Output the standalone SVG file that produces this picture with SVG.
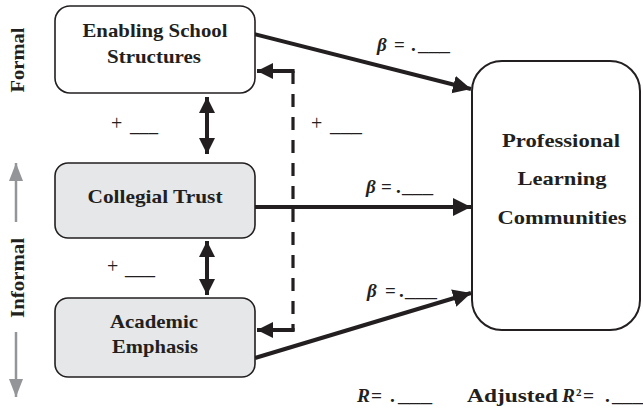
<svg xmlns="http://www.w3.org/2000/svg" width="643" height="408" viewBox="0 0 643 408">
<style>
.box{fill:#fff;stroke:#231f20;stroke-width:1.6}
.gbox{fill:#e6e7e8;stroke:#231f20;stroke-width:1.6}
text{font-family:'Liberation Serif',Tinos,'Times New Roman',serif;fill:#231f20}
.bt{font-weight:bold;font-size:19.5px;text-anchor:middle}
.lab{font-weight:bold;font-size:19px}
.pl{font-size:20px}
.it{font-style:italic}
.arr{stroke:#231f20;stroke-width:4;fill:none}
.dash{stroke:#231f20;stroke-width:3.2;fill:none;stroke-dasharray:13 10}
.side{stroke:#939598;stroke-width:2.5;fill:none}
</style>
<defs>
<marker id="ah" markerUnits="userSpaceOnUse" markerWidth="20" markerHeight="20" refX="18" refY="9" orient="auto">
<path d="M0,0 L18,9 L0,18 Z" fill="#231f20"/>
</marker>
<marker id="ahs" markerUnits="userSpaceOnUse" markerWidth="20" markerHeight="20" refX="16" refY="8" orient="auto">
<path d="M0,0 L16,8 L0,16 Z" fill="#231f20"/>
</marker>
<marker id="gh" markerUnits="userSpaceOnUse" markerWidth="20" markerHeight="20" refX="18" refY="7" orient="auto">
<path d="M0,0 L18,7 L0,14 Z" fill="#939598"/>
</marker>
</defs>

<g id="side-labels">
<text class="bt" transform="translate(24,60) rotate(-90)" textLength="65" lengthAdjust="spacingAndGlyphs">Formal</text>
<text class="bt" transform="translate(24,278) rotate(-90)" textLength="80" lengthAdjust="spacingAndGlyphs">Informal</text>
<line class="side" x1="16" y1="222" x2="16" y2="163" marker-end="url(#gh)"/>
<line class="side" x1="16" y1="332" x2="16" y2="397" marker-end="url(#gh)"/>
</g>

<g id="connectors">
<line class="arr" x1="246" y1="32" x2="471" y2="89" marker-end="url(#ah)"/>
<line class="arr" x1="255" y1="207" x2="471" y2="207" marker-end="url(#ah)"/>
<line class="arr" x1="255" y1="358" x2="471" y2="293" marker-end="url(#ah)"/>
<line class="arr" x1="207" y1="125" x2="207" y2="97" marker-end="url(#ahs)"/>
<line class="arr" x1="207" y1="125" x2="207" y2="154" marker-end="url(#ahs)"/>
<line class="arr" x1="207" y1="267" x2="207" y2="241" marker-end="url(#ahs)"/>
<line class="arr" x1="207" y1="267" x2="207" y2="295" marker-end="url(#ahs)"/>
<line class="dash" x1="293" y1="71" x2="293" y2="331"/>
<line class="arr" x1="294.6" y1="71" x2="257" y2="71" marker-end="url(#ahs)"/>
<line class="arr" x1="294.6" y1="330" x2="257" y2="330" marker-end="url(#ahs)"/>
</g>

<g id="node-ess">
<rect class="box" x="55" y="6" width="200" height="87" rx="15"/>
<text class="bt" x="155" y="37" textLength="145" lengthAdjust="spacingAndGlyphs">Enabling School</text>
<text class="bt" x="154" y="63" textLength="94" lengthAdjust="spacingAndGlyphs">Structures</text>
</g>

<g id="node-ct">
<rect class="gbox" x="55" y="163" width="200" height="75" rx="13"/>
<text class="bt" x="155" y="203" textLength="135" lengthAdjust="spacingAndGlyphs">Collegial Trust</text>
</g>

<g id="node-ae">
<rect class="gbox" x="55" y="298" width="200" height="79" rx="13"/>
<text class="bt" x="154" y="328" textLength="88" lengthAdjust="spacingAndGlyphs">Academic</text>
<text class="bt" x="155" y="353" textLength="86" lengthAdjust="spacingAndGlyphs">Emphasis</text>
</g>

<g id="node-plc">
<rect class="box" x="472" y="61" width="168" height="269" rx="30" style="stroke-width:2"/>
<text class="bt" x="561" y="147" textLength="118" lengthAdjust="spacingAndGlyphs">Professional</text>
<text class="bt" x="562" y="185" textLength="89" lengthAdjust="spacingAndGlyphs">Learning</text>
<text class="bt" x="562" y="224" textLength="129" lengthAdjust="spacingAndGlyphs">Communities</text>
</g>

<g id="labels">
<text class="pl"><tspan x="111" y="130">+</tspan><tspan x="130" y="131" textLength="28" lengthAdjust="spacingAndGlyphs">___</tspan></text>
<text class="pl"><tspan x="311" y="130">+</tspan><tspan x="330" y="131" textLength="32" lengthAdjust="spacingAndGlyphs">___</tspan></text>
<text class="pl"><tspan x="107" y="273">+</tspan><tspan x="125" y="274" textLength="30" lengthAdjust="spacingAndGlyphs">___</tspan></text>

<text class="lab"><tspan class="it" x="377" y="51">β</tspan><tspan x="394" y="51">=</tspan><tspan x="411" y="51">.</tspan><tspan x="418" y="51" textLength="32" lengthAdjust="spacingAndGlyphs">___</tspan></text>
<text class="lab"><tspan class="it" x="366" y="193">β</tspan><tspan x="381" y="193">=</tspan><tspan x="396" y="193">.</tspan><tspan x="402" y="193" textLength="31" lengthAdjust="spacingAndGlyphs">___</tspan></text>
<text class="lab"><tspan class="it" x="367" y="297">β</tspan><tspan x="385" y="297">=</tspan><tspan x="399" y="297">.</tspan><tspan x="405" y="297" textLength="32" lengthAdjust="spacingAndGlyphs">___</tspan></text>

<text class="lab" style="font-size:19.5px"><tspan class="it" x="357" y="402">R</tspan><tspan x="371" y="402">=</tspan><tspan x="390" y="402">.</tspan><tspan x="398" y="402" textLength="34" lengthAdjust="spacingAndGlyphs">___</tspan><tspan x="467" y="402" textLength="91" lengthAdjust="spacingAndGlyphs">Adjusted</tspan><tspan class="it" x="562" y="402">R</tspan><tspan x="576" y="396" style="font-size:11px">2</tspan><tspan x="583" y="402">=</tspan><tspan x="605" y="402">.</tspan><tspan x="612" y="402" textLength="31" lengthAdjust="spacingAndGlyphs">___</tspan></text>
</g>
</svg>
